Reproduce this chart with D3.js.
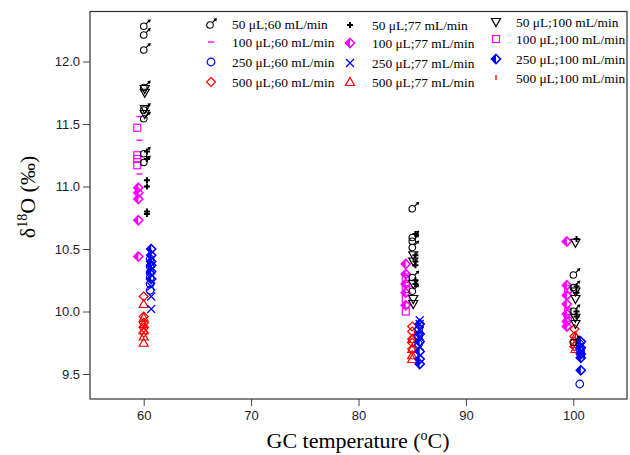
<!DOCTYPE html>
<html lang="en">
<head>
<meta charset="UTF-8">
<title>GC temperature vs d18O</title>
<script src="https://cdn.jsdelivr.net/npm/d3@7"></script>
<style>
  body { margin: 0; background: #fff; }
  .tick text { font-family: "Liberation Sans", Arial, sans-serif; font-size: 13px; fill: #222; }
  .tick line { stroke: #444; }
  .lab { font-family: "Liberation Serif", "Times New Roman", serif; fill: #000; }
</style>
</head>
<body>
<div id="chart"></div>
<script>
// legend order: column by column
const seriesNames = [
  "50 μL;60 mL/min", "100 μL;60 mL/min", "250 μL;60 mL/min", "500 μL;60 mL/min",
  "50 μL;77 mL/min", "100 μL;77 mL/min", "250 μL;77 mL/min", "500 μL;77 mL/min",
  "50 μL;100 mL/min", "100 μL;100 mL/min", "250 μL;100 mL/min", "500 μL;100 mL/min"
];
const seriesColors = [
  "#000000", "#ff00ff", "#0000ff", "#ff0000",
  "#000000", "#ff00ff", "#0000ff", "#ff0000",
  "#000000", "#ff00ff", "#0000ff", "#ff0000"
];
const seriesShapes = [
  "male", "dash", "circle", "diamond",
  "plus", "halfdiamond", "cross", "triangle",
  "triangledown", "square", "halfdiamond", "tick"
];

// plotted GC temperature of each series at the 60, 85 and 100 °C groups
const seriesX = [
  [60.1, 85.1, 100.1], [59.6, 84.6, 99.6], [60.6, 85.6, 100.6], [60.0, 85.0, 100.1],
  [60.3, 85.3, 100.3], [59.5, 84.4, 99.4], [60.7, 85.7, 100.7], [60.0, 85.0, 100.2],
  [60.1, 85.1, 100.2], [59.4, 84.4, 99.5], [60.7, 85.7, 100.7], [60.1, 85.2, 100.2]
];

// δ18O (‰) values per series, one list per temperature group
const seriesY = [
  [[12.29, 12.22, 12.10, 11.80, 11.62, 11.55, 11.27, 11.20], [10.83, 10.60, 10.57, 10.52, 10.28, 10.17], [10.30, 10.20, 10.01, 9.76]],
  [[11.56, 11.37, 11.10], [10.30, 10.20], [10.02, 9.95]],
  [[10.42, 10.36, 10.31, 10.27, 10.22, 10.17], [9.86, 9.80, 9.74], [9.74, 9.70, 9.42]],
  [[10.12, 9.96, 9.91, 9.87, 9.83], [9.88, 9.84, 9.78, 9.75, 9.70], [9.86, 9.80, 9.76, 9.72]],
  [[11.28, 11.22, 11.05, 11.00, 10.80, 10.78], [10.62, 10.45, 10.40, 10.37, 10.25, 10.22], [10.58, 10.20, 10.15, 10.00, 9.96]],
  [[10.99, 10.95, 10.90, 10.73, 10.44], [10.38, 10.30, 10.22, 10.15, 10.05], [10.56, 10.21, 10.13, 10.06, 9.98, 9.92, 9.88]],
  [[10.33, 10.20, 10.12, 10.02], [9.93, 9.90, 9.85, 9.80, 9.72], [9.72, 9.68, 9.65]],
  [[10.06, 9.95, 9.90, 9.85, 9.80, 9.75], [9.78, 9.70, 9.65, 9.62], [9.80, 9.74, 9.70]],
  [[11.78, 11.75, 11.62, 11.58], [10.45, 10.40, 10.22, 10.10, 10.06], [10.55, 10.16, 10.10, 9.95, 9.90]],
  [[11.47, 11.25, 11.22, 11.17], [10.26, 10.18, 10.10, 10.00], [10.18, 10.00, 9.95]],
  [[10.50, 10.45, 10.40, 10.37, 10.32, 10.26], [9.90, 9.82, 9.76, 9.68, 9.62, 9.58], [9.76, 9.71, 9.66, 9.63, 9.53]],
  [[9.92, 9.88], [9.82], [9.82, 9.78]]
];

const xTicks = [60, 70, 80, 90, 100];
const yTicks = [9.5, 10.0, 10.5, 11.0, 11.5, 12.0];

const width = 630, height = 455;
const box = { left: 90, right: 627, top: 11.5, bottom: 399 };

const svg = d3.select("#chart").append("svg")
  .attr("width", width)
  .attr("height", height);

const x = d3.scaleLinear().domain([55, 105]).range([box.left, box.right]);
const y = d3.scaleLinear().domain([9.3, 12.4]).range([box.bottom, box.top]);

// draw one symbol centred on (0,0)
function drawShape(g, shape, color) {
  const s = 4;
  if (shape === "male") {
    g.append("circle").attr("cx", -1).attr("cy", 1).attr("r", 3.3)
      .attr("fill", "none").attr("stroke", color).attr("stroke-width", 1.1);
    g.append("line").attr("x1", 1.3).attr("y1", -1.3).attr("x2", 4.5).attr("y2", -4.5)
      .attr("stroke", color).attr("stroke-width", 1.2);
    g.append("path").attr("d", "M6,-6 L2.4,-5.2 L5.2,-2.4 Z").attr("fill", color);
  } else if (shape === "dash") {
    g.append("line").attr("x1", -3).attr("x2", 3).attr("y1", 0).attr("y2", 0)
      .attr("stroke", color).attr("stroke-width", 1.4);
  } else if (shape === "tick") {
    g.append("line").attr("x1", 0).attr("x2", 0).attr("y1", -3).attr("y2", 2)
      .attr("stroke", color).attr("stroke-width", 1.3);
  } else if (shape === "circle") {
    g.append("circle").attr("r", 3.8).attr("fill", "none")
      .attr("stroke", color).attr("stroke-width", 1.2);
  } else if (shape === "diamond") {
    g.append("path").attr("d", `M0,${-s - 0.5} L${s + 0.5},0 L0,${s + 0.5} L${-s - 0.5},0 Z`)
      .attr("fill", "none").attr("stroke", color).attr("stroke-width", 1.2);
  } else if (shape === "halfdiamond") {
    g.append("path").attr("d", `M0,${-s - 0.5} L0,${s + 0.5} L${-s - 0.5},0 Z`)
      .attr("fill", color);
    g.append("path").attr("d", `M0,${-s - 0.5} L${s + 0.5},0 L0,${s + 0.5} L${-s - 0.5},0 Z`)
      .attr("fill", "none").attr("stroke", color).attr("stroke-width", 1.6);
  } else if (shape === "plus") {
    g.append("path").attr("d", "M-3,0 H3 M0,-3 V3")
      .attr("stroke", color).attr("stroke-width", 2);
  } else if (shape === "cross") {
    g.append("path").attr("d", `M${-s},${-s} L${s},${s} M${-s},${s} L${s},${-s}`)
      .attr("stroke", color).attr("stroke-width", 1.2);
  } else if (shape === "triangle") {
    g.append("path").attr("d", `M0,${-s - 0.5} L${s + 0.5},${s - 0.5} L${-s - 0.5},${s - 0.5} Z`)
      .attr("fill", "none").attr("stroke", color).attr("stroke-width", 1.2);
  } else if (shape === "triangledown") {
    g.append("path").attr("d", `M0,${s + 0.5} L${s + 0.5},${-s + 0.5} L${-s - 0.5},${-s + 0.5} Z`)
      .attr("fill", "none").attr("stroke", color).attr("stroke-width", 1.2);
  } else if (shape === "square") {
    g.append("rect").attr("x", -3.5).attr("y", -3.5).attr("width", 7).attr("height", 7)
      .attr("fill", "none").attr("stroke", color).attr("stroke-width", 1.2);
  }
}

// axes
svg.append("g")
  .attr("transform", `translate(0,${box.bottom})`)
  .call(d3.axisBottom(x).tickValues(xTicks).tickSize(7).tickPadding(5).tickFormat(d3.format("d")))
  .call(g => g.select(".domain").remove());

svg.append("g")
  .attr("transform", `translate(${box.left},0)`)
  .call(d3.axisLeft(y).tickValues(yTicks).tickSize(7).tickPadding(3).tickFormat(d3.format(".1f")))
  .call(g => g.select(".domain").remove());

// points: magenta first, then red, blue, black on top
const drawOrder = [1, 5, 9, 3, 7, 11, 2, 6, 10, 0, 4, 8];
const pts = svg.append("g");
drawOrder.forEach(i => {
  seriesY[i].forEach((vals, k) => {
    vals.forEach(v => {
      const g = pts.append("g").attr("transform", `translate(${x(seriesX[i][k])},${y(v)})`);
      drawShape(g, seriesShapes[i], seriesColors[i]);
    });
  });
});

// plot frame
svg.append("rect")
  .attr("x", box.left).attr("y", box.top)
  .attr("width", box.right - box.left).attr("height", box.bottom - box.top)
  .attr("fill", "none").attr("stroke", "#333").attr("stroke-width", 1.2);

// legend
const legSymX = [211, 350, 496];
const legTextX = [232, 372, 516];
const legRowY = [[24, 42, 62, 82], [25, 43, 63, 82], [22, 39, 59, 78]];
const legend = svg.append("g");
seriesNames.forEach((name, i) => {
  const col = Math.floor(i / 4), row = i % 4;
  const g = legend.append("g").attr("transform", `translate(${legSymX[col]},${legRowY[col][row]})`);
  drawShape(g, seriesShapes[i], seriesColors[i]);
  legend.append("text").attr("class", "lab")
    .attr("x", legTextX[col]).attr("y", legRowY[col][row] + 5)
    .style("font-size", "13.4px")
    .text(name);
});

// axis titles
const yl = svg.append("text").attr("class", "lab")
  .attr("transform", "translate(35,197) rotate(-90)")
  .attr("text-anchor", "middle")
  .style("font-size", "22px");
yl.append("tspan").text("δ");
yl.append("tspan").attr("dy", -8).style("font-size", "14px").text("18");
yl.append("tspan").attr("dy", 8).text("O (‰)");

const xl = svg.append("text").attr("class", "lab")
  .attr("x", 358).attr("y", 448)
  .attr("text-anchor", "middle")
  .style("font-size", "22px");
xl.append("tspan").text("GC temperature (");
xl.append("tspan").attr("dy", -8).style("font-size", "14px").text("o");
xl.append("tspan").attr("dy", 8).text("C)");
</script>
</body>
</html>
